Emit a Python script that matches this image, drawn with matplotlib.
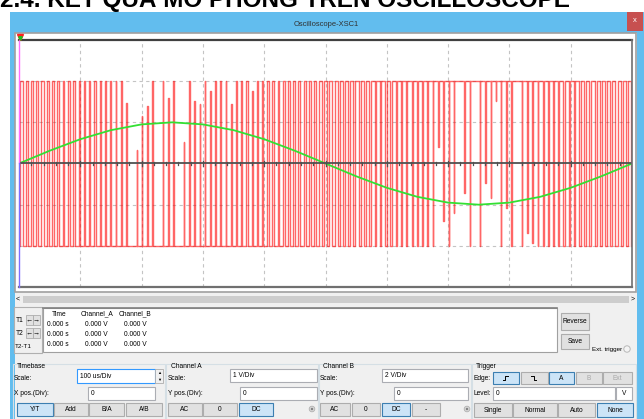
import matplotlib
matplotlib.use("Agg")
import matplotlib.pyplot as plt
import numpy as np
from matplotlib.patches import Rectangle, Circle

plt.rcParams['font.family'] = ['Liberation Sans', 'DejaVu Sans']

# timebase: 100 us/Div, 10 divisions on screen
t_div_us = 100
n_xdiv = 10
n_ydiv = 6

# Channel B (2 V/Div): sine sampled every 50 us, volts
chB_t_us = [0, 50, 100, 150, 200, 250, 300, 350, 400, 450, 500,
            550, 600, 650, 700, 750, 800, 850, 900, 950, 1000]
chB_v = [0.0, 0.62, 1.18, 1.62, 1.9, 2.0, 1.9, 1.62, 1.18, 0.62, 0.0,
         -0.62, -1.18, -1.62, -1.9, -2.0, -1.9, -1.62, -1.18, -0.62, 0.0]
chB_scale = 2.0

# Channel A (1 V/Div): PWM output, +/-2 V, high-time percent per carrier period
chA_scale = 1.0
pwm_high_v = 2.0
pwm_low_v = -2.0
pwm_period_us = 8.55
pwm_duty = [50, 48, 46, 44, 42, 40, 38, 36, 34, 32, 30, 28,
            26, 24, 22, 20, 18, 16, 14, 13, 12, 11, 10, 9,
            8, 7, 7, 6, 6, 6, 6, 6, 7, 7, 8, 9,
            10, 11, 12, 13, 14, 16, 18, 20, 22, 24, 26, 28,
            30, 32, 34, 36, 38, 40, 42, 44, 46, 48, 50,
            52, 54, 56, 58, 60, 62, 64, 66, 68, 70, 72,
            74, 76, 78, 80, 82, 84, 86, 87, 88, 89, 90, 91,
            92, 93, 93, 94, 94, 94, 94, 94, 93, 93, 92, 91,
            90, 89, 88, 87, 86, 84, 82, 80, 78, 76, 74, 72,
            70, 68, 66, 64, 62, 60, 58, 56, 54, 52, 50]
# fraction of the full 4 V swing each narrow pulse reaches on screen
pwm_swing = [1.0] * 19 + [
    1.0, 0.87, 0.0, 0.58, 0.79, 0.85, 1.0, 0.0, 1.0, 0.9,
    1.0, 0.0, 0.63, 1.0, 0.88, 0.86, 1.0, 0.94, 1.0, 1.0,
    1.0, 0.86, 1.0, 1.0, 1.0, 0.94, 1.0] + [1.0] * 33 + [
    0.40, 0.85, 1.0, 0.80, 0.0, 0.68, 1.0, 0.0, 1.0, 0.62,
    0.71, 0.12, 1.0, 0.77, 1.0, 0.0, 1.0, 0.92, 0.98] + [1.0] * 19

W, H = 644, 419
fig = plt.figure(figsize=(W / 100, H / 100), dpi=100)
fig.patch.set_facecolor('white')

# background axes in pixel coordinates
bg = fig.add_axes([0, 0, 1, 1])
bg.set_xlim(0, W)
bg.set_ylim(H, 0)
bg.axis('off')

FS = 4.8


def rect(x0, y0, x1, y1, face, edge='none', lw=0.8, z=1):
    bg.add_patch(Rectangle((x0, y0), x1 - x0, y1 - y0, facecolor=face,
                           edgecolor=edge, lw=lw, zorder=z))


def label(x, y, s, ha='left', color='black', size=FS):
    bg.text(x, y, s, ha=ha, va='center', fontsize=size, color=color, zorder=5)


def button(x0, y0, x1, y1, s, active=False, grey=False):
    face = '#cce4f7' if active else '#e1e1e1'
    edge = '#3c7fb1' if active else '#adadad'
    rect(x0, y0, x1, y1, face, edge, 0.8, 3)
    label((x0 + x1) / 2, (y0 + y1) / 2, s, ha='center',
          color='#a8a8a8' if grey else 'black')


def textbox(x0, y0, x1, y1, s, focus=False):
    rect(x0, y0, x1, y1, 'white', '#3399ff' if focus else '#abadb3', 0.8, 3)
    label(x0 + 3, (y0 + y1) / 2, s)


# heading above the window (runs off the top edge)
bg.text(0, 6.5, "2.4. KẾT QUẢ MÔ PHỎNG TRÊN OSCILLOSCOPE", fontsize=17.5,
        fontweight='bold', va='baseline', ha='left', color='black', zorder=-1)

# window frame and title bar
rect(10, 12, W, H, '#62bdee', z=0)
rect(15, 33, 637, H, '#f0f0f0', z=0.5)
label(326, 24, "Oscilloscope-XSC1", ha='center', color='#303030', size=5.4)
rect(627, 12, 643, 31, '#c75050', z=2)
label(635, 21, "x", ha='center', color='white', size=5.5)

# scope screen
rect(15.5, 33.5, 636.5, 292, 'white', '#a0a0a0', 1.2, 1)

# horizontal scrollbar
rect(15.5, 294, 636.5, 304, '#f0f0f0', z=1)
rect(23, 295.5, 629, 302.5, '#cdcdcd', z=2)
label(18, 299, "<", ha='center', size=5)
label(633, 299, ">", ha='center', size=5)

# cursor readout area
rect(14, 307, 42, 353, '#f0f0f0', '#b0b0b0', 0.8, 1)
rect(43, 308, 557, 352, 'white', '#a0a0a0', 0.8, 1)
bg.plot([43, 557], [308, 308], color='#808080', lw=1.2, zorder=2)
label(16, 320, "T1")
label(16, 333, "T2")
label(15, 346, "T2-T1", size=4.5)
for yy in (315, 328):
    for xx in (26, 33):
        rect(xx, yy, xx + 7, yy + 10, '#e1e1e1', '#adadad', 0.6, 3)
    label(29.5, yy + 5, "←", ha='center', size=5)
    label(36.5, yy + 5, "→", ha='center', size=5)
label(59, 314, "Time", ha='center')
label(97, 314, "Channel_A", ha='center')
label(135, 314, "Channel_B", ha='center')
for yy in (324, 334, 344):
    label(58, yy, "0.000 s", ha='center')
    label(96, yy, "0.000 V", ha='center')
    label(135, yy, "0.000 V", ha='center')

button(561, 313, 589, 330, "Reverse")
button(561, 334, 589, 349, "Save")
label(592, 349, "Ext. trigger", size=4.5)
bg.add_patch(Circle((627, 349), 3.2, facecolor='#f4f4f4', edgecolor='#b8b8b8',
                    lw=0.7, zorder=3))

# group boxes
for x0, x1 in ((13, 165), (166, 318), (319, 471), (472, 636)):
    bg.plot([x0, x0, x1, x1], [419, 363.5, 363.5, 419], color='#d5dfe5',
            lw=0.8, zorder=1)

# Timebase
label(17, 366, "Timebase")
label(14, 378, "Scale:")
textbox(77, 369, 155, 383, "100 us/Div", focus=True)
rect(155.5, 369, 163, 383, '#f0f0f0', '#adadad', 0.6, 3)
label(159.2, 373, "▲", ha='center', size=3)
label(159.2, 379.5, "▼", ha='center', size=3)
label(14, 393, "X pos.(Div):")
textbox(88, 387, 155, 400, "0")
button(17, 403, 53, 416, "Y/T", active=True)
button(54, 403, 88, 416, "Add")
button(89, 403, 124, 416, "B/A")
button(126, 403, 162, 416, "A/B")

# Channel A
label(171, 366, "Channel A")
label(168, 378, "Scale:")
textbox(230, 369, 317, 382, "1 V/Div")
label(168, 393, "Y pos.(Div):")
textbox(240, 387, 317, 400, "0")
button(168, 403, 202, 416, "AC")
button(203, 403, 237, 416, "0")
button(239, 403, 273, 416, "DC", active=True)

# Channel B
label(323, 366, "Channel B")
label(320, 378, "Scale:")
textbox(382, 369, 468, 382, "2 V/Div")
label(320, 393, "Y pos.(Div):")
textbox(394, 387, 468, 400, "0")
button(320, 403, 350, 416, "AC")
button(352, 403, 380, 416, "0")
button(382, 403, 410, 416, "DC", active=True)
button(412, 403, 440, 416, "-")

for cx in (312, 467):
    bg.add_patch(Circle((cx, 409), 2.8, facecolor='#d8d8d8', edgecolor='#b0b0b0',
                        lw=0.6, zorder=3))
    bg.add_patch(Circle((cx, 409), 1.2, facecolor='#808080', edgecolor='none',
                        zorder=4))

# Trigger
label(476, 366, "Trigger")
label(474, 378, "Edge:")
button(493, 372, 519, 384, "", active=True)
button(521, 372, 548, 384, "")
bg.plot([503, 505, 505, 508], [380, 380, 376, 376], color='black', lw=0.7, zorder=5)
bg.plot([531, 534, 534, 536], [376, 376, 380, 380], color='black', lw=0.7, zorder=5)
button(549, 372, 574, 384, "A", active=True)
button(576, 372, 602, 384, "B", grey=True)
button(603, 372, 632, 384, "Ext", grey=True)
label(474, 393, "Level:")
textbox(493, 387, 615, 400, "0")
rect(616, 387, 632, 400, 'white', '#abadb3', 0.8, 3)
label(624, 393.5, "V", ha='center')
button(474, 403, 512, 417, "Single")
button(513, 403, 557, 417, "Normal")
button(558, 403, 595, 417, "Auto")
button(597, 403, 633, 417, "None", active=True)

# scope plot area: 10 x 6 divisions
x0p, x1p, y0p, y1p = 19, 632, 40, 287
ax = fig.add_axes([x0p / W, 1 - y1p / H, (x1p - x0p) / W, (y1p - y0p) / H])
ax.set_xlim(0, n_xdiv)
ax.set_ylim(-n_ydiv / 2, n_ydiv / 2)
ax.set_facecolor('none')
for s in ax.spines.values():
    s.set_visible(False)
ax.set_xticks([])
ax.set_yticks([])

grid_kw = dict(color='#c4c4c4', lw=0.8, ls=(0, (3, 3)), zorder=1)
for i in range(1, n_xdiv):
    ax.axvline(i, **grid_kw)
for j in (-2, -1, 1, 2):
    ax.axhline(j, **grid_kw)

# red PWM trace: below 50 % duty the narrow part is the high pulse sitting on
# the low level, above 50 % it is the low gap hanging from the high level
span = pwm_high_v - pwm_low_v
ts, vs = [0.0], [pwm_low_v]
prev = pwm_low_v
for k, (d, sw) in enumerate(zip(pwm_duty, pwm_swing)):
    c = k * pwm_period_us + pwm_period_us / 2
    w = pwm_period_us * d / 100.0
    a, b = c - w / 2, c + w / 2
    if d <= 50:
        top = pwm_low_v + sw * span
        ts += [a, a, b, b]
        vs += [prev, top, top, pwm_low_v]
        prev = pwm_low_v
    else:
        bot = pwm_high_v - sw * span
        ts += [a, a, b, b]
        vs += [prev, pwm_high_v, pwm_high_v, bot]
        prev = bot
ts = np.array(ts) / t_div_us
vs = np.array(vs) / chA_scale
ax.plot(ts, vs, color='#ff0000', lw=1.0, alpha=0.6, zorder=3)

# green sine
ax.plot(np.array(chB_t_us) / t_div_us, np.array(chB_v) / chB_scale,
        color='#33e033', lw=1.3, zorder=4)

# centre axis with minor ticks
ax.axhline(0, color='#505050', lw=1.3, zorder=5)
for m in np.arange(0, n_xdiv + 0.01, 0.2):
    h = 0.07 if abs(m - round(m)) < 1e-6 else 0.045
    ax.plot([m, m], [-h, h], color='#505050', lw=0.9, zorder=5)

# frame
ax.plot([0, n_xdiv], [3, 3], color='#404040', lw=1.6, zorder=6, clip_on=False)
ax.plot([0, n_xdiv], [-3, -3], color='#707070', lw=1.6, zorder=6, clip_on=False)
ax.plot([n_xdiv, n_xdiv], [-3, 3], color='#707070', lw=1.2, zorder=6, clip_on=False)
ax.plot([0, 0], [0, 3], color='#ff70ff', lw=1.0, zorder=6, clip_on=False)
ax.plot([0, 0], [-3, 0], color='#8070ff', lw=1.0, zorder=6, clip_on=False)
ax.plot([0.02], [3.08], marker='v', color='#ff2020', ms=4, zorder=7, clip_on=False)
ax.plot([0.02], [3.04], marker='v', color='#20c020', ms=2.5, zorder=8, clip_on=False)

fig.savefig('out.png', dpi=100)
